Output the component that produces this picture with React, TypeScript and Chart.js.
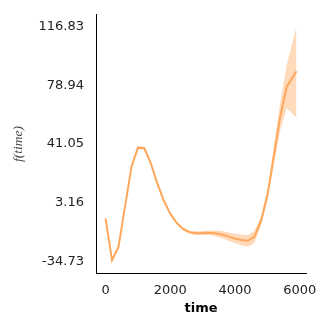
import React, { useEffect, useRef } from "react";
import { Chart, registerables } from "chart.js";

Chart.register(...registerables);

const times = [0, 200, 400, 800, 1000, 1200, 1400, 1600, 1800, 2000, 2200, 2400, 2600, 2800, 3000, 3200, 3400, 3600, 3800, 4000, 4200, 4400, 4600, 4800, 5000, 5200, 5400, 5600, 5900];
const meanValues = [-7, -34, -25.5, 26, 38.6, 38.2, 28.5, 15.5, 4.5, -4, -10, -14, -16, -16.6, -16.5, -16.3, -16.7, -17.5, -18.8, -20, -21, -21.5, -19, -9, 7.5, 33, 59, 78, 88];
const lowerValues = [-8, -34.73, -26.5, 25, 37.6, 37.2, 27.5, 14.5, 3.5, -5, -11, -15, -17, -17.8, -17.8, -17.8, -18.5, -19.8, -21.5, -23, -24.5, -25.3, -23, -12, 4.5, 27, 50, 64, 58];
const upperValues = [-6, -33.3, -24.5, 27, 39.6, 39.2, 29.5, 16.5, 5.5, -3, -9, -13, -15, -15.4, -15.2, -14.8, -14.9, -15.2, -16.1, -17, -17.5, -17.7, -15, -6, 10.5, 39, 68, 92, 116.83];
const xTicks = [0, 2000, 4000, 6000];
const yTicks = [-34.73, 3.16, 41.05, 78.94, 116.83];

const LINE = "rgb(255,168,92)";
const BAND = "rgba(255,168,92,0.42)";

export default function App() {
  const ref = useRef<HTMLCanvasElement>(null);
  useEffect(() => {
    document.body.style.margin = "0";
    const ctx = ref.current!;
    const pts = (vals: number[]) => times.map((t, i) => ({ x: t, y: vals[i] }));
    const chart = new Chart(ctx, {
      type: "line",
      data: {
        datasets: [
          { data: pts(lowerValues), borderWidth: 0, pointRadius: 0, fill: false, borderColor: "transparent" },
          { data: pts(upperValues), borderWidth: 0, pointRadius: 0, fill: "-1", backgroundColor: BAND, borderColor: "transparent" },
          { data: pts(meanValues), borderWidth: 2, pointRadius: 0, fill: false, borderColor: LINE },
        ],
      },
      options: {
        responsive: false,
        animation: false,
        plugins: { legend: { display: false }, tooltip: { enabled: false } },
        layout: { padding: { top: 10, right: 20, left: 0, bottom: 0 } },
        scales: {
          x: {
            type: "linear",
            min: -295,
            max: 6195,
            afterBuildTicks: (s: any) => { s.ticks = xTicks.map((v) => ({ value: v })); },
            afterFit: (s: any) => { s.height = 53; },
            grid: { display: false, drawTicks: true, tickLength: 5, tickColor: "#000" },
            border: { display: true, color: "#000", width: 1 },
            ticks: { color: "#222", padding: 5, maxRotation: 0, font: { family: "DejaVu Sans", size: 13 }, callback: (v: any) => String(v) },
            title: { display: true, text: "time", color: "#000", font: { family: "DejaVu Sans", size: 13, weight: "bold" }, padding: { top: 0, bottom: 9.5 } },
          },
          y: {
            type: "linear",
            min: -42.31,
            max: 124.41,
            afterBuildTicks: (s: any) => { s.ticks = yTicks.map((v) => ({ value: v })); },
            afterFit: (s: any) => { s.width = 96; },
            grid: { display: false, drawTicks: true, tickLength: 5, tickColor: "#000" },
            border: { display: true, color: "#000", width: 1 },
            ticks: { color: "#222", padding: 7, font: { family: "DejaVu Sans", size: 13 }, callback: (v: any) => Number(v).toFixed(2) },
            title: { display: true, text: "f(time)", color: "#444", font: { family: "Liberation Serif", size: 13.5, style: "italic" }, padding: { top: 10.5, bottom: 0 } },
          },
        },
      },
    });
    return () => chart.destroy();
  }, []);
  return (
    <div style={{ width: 326, height: 326 }}>
      <canvas ref={ref} width={326} height={326} style={{ display: "block" }} />
    </div>
  );
}
